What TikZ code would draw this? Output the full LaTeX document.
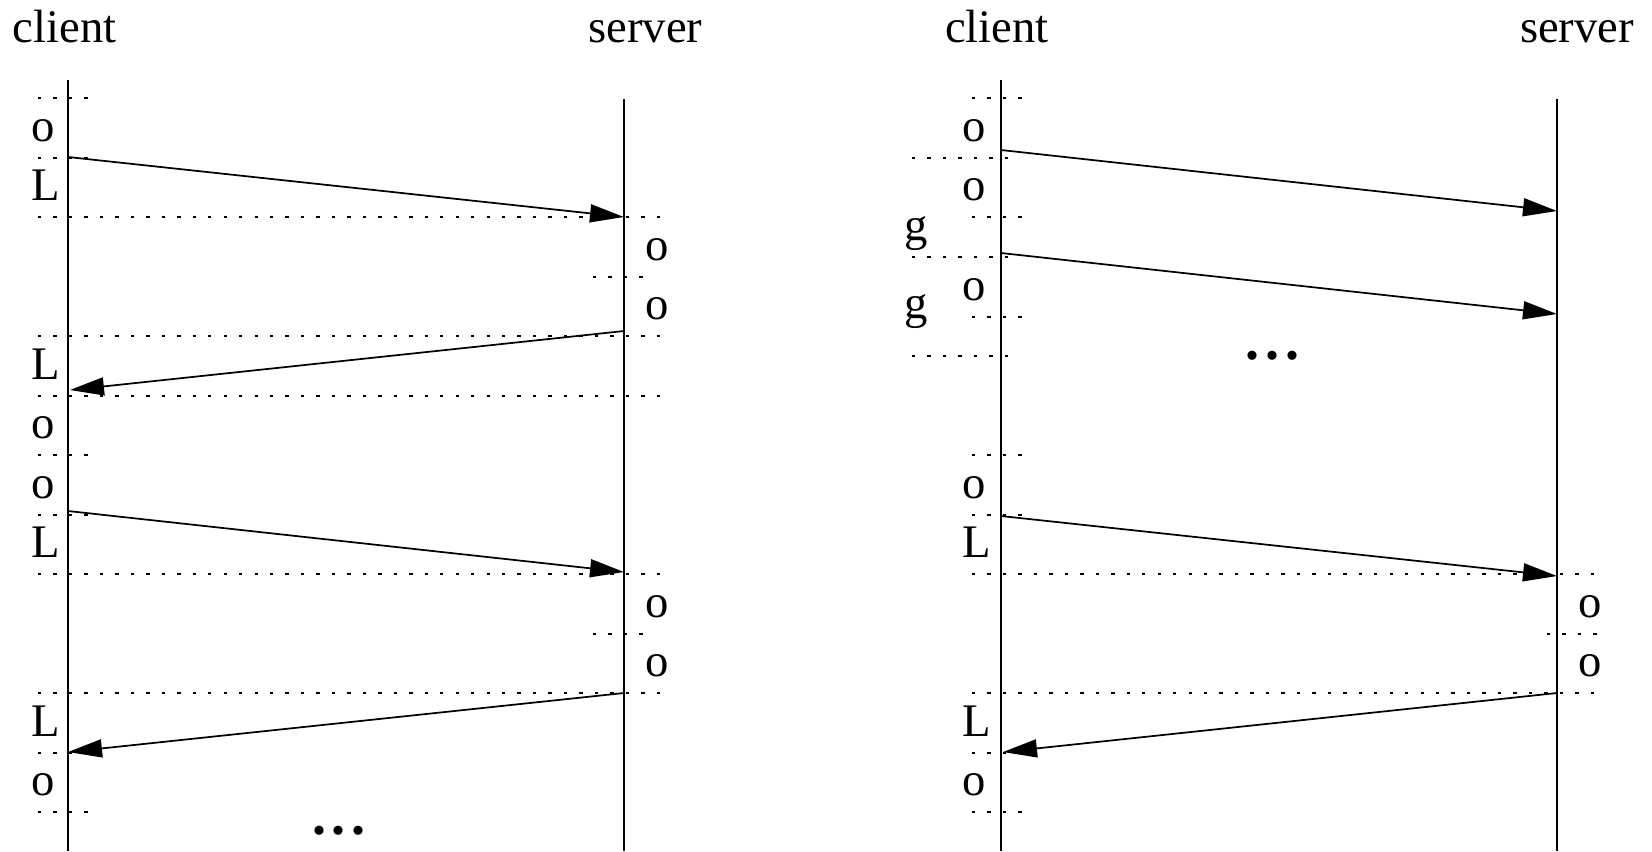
\documentclass[tikz,border=0pt]{standalone}
\usepackage{fontspec}
\setmainfont{Liberation Serif}
\usetikzlibrary{arrows.meta}
\begin{document}
\begin{tikzpicture}[x=0.75pt,y=-0.75pt,
  life/.style={line width=1.5pt},
  msg/.style={line width=1.3pt,-{Triangle[length=25.5pt,width=13.5pt]}},
  guide/.style={line width=1.5pt,dash pattern=on 2.5pt off 9.1pt},
  lbl/.style={inner sep=0pt,anchor=base west,font=\fontsize{35}{40}\selectfont},
  ttl/.style={inner sep=0pt,anchor=base,font=\fontsize{35}{40}\selectfont},
  ell/.style={inner sep=0pt,anchor=base,font=\fontsize{42}{44}\selectfont\bfseries}
]
\useasboundingbox (0,0) rectangle (1652,851);

% ---------------- left panel ----------------
\node[ttl] (tc1) at (64.5,42) {client};
\node[ttl] (ts1) at (645.5,42) {server};
\coordinate (lct) at (68,80);  \coordinate (lcb) at (68,851);
\coordinate (lst) at (624,99); \coordinate (lsb) at (624,851);
\draw[life] (lct) -- (lcb);
\draw[life] (lst) -- (lsb);

% guides
\draw[guide] (38,98) -- (88,98);
\draw[guide] (38,157.5) -- (88,157.5);
\draw[guide] (38,217) -- (662,217);
\draw[guide] (593,276.5) -- (643,276.5);
\draw[guide] (38,336) -- (662,336);
\draw[guide] (38,395.5) -- (662,395.5);
\draw[guide] (38,455) -- (88,455);
\draw[guide] (38,514.5) -- (88,514.5);
\draw[guide] (38,574) -- (662,574);
\draw[guide] (593,633.5) -- (643,633.5);
\draw[guide] (38,693) -- (662,693);
\draw[guide] (38,752.5) -- (88,752.5);
\draw[guide] (38,812) -- (88,812);

% labels
\node[lbl] (l1) at (31,141) {o};
\node[lbl] (l2) at (31,200.5) {L};
\node[lbl] (l3) at (645.5,260) {o};
\node[lbl] (l4) at (645.5,319.5) {o};
\node[lbl] (l5) at (31,379) {L};
\node[lbl] (l6) at (31,438.5) {o};
\node[lbl] (l7) at (31,498) {o};
\node[lbl] (l8) at (31,557.5) {L};
\node[lbl] (l9) at (645.5,617) {o};
\node[lbl] (l10) at (645.5,676.5) {o};
\node[lbl] (l11) at (31,736) {L};
\node[lbl] (l12) at (31,795.5) {o};
\node[ell] (e1) at (339,834) {.\kern4.5pt.\kern4.5pt.};

% messages
\coordinate (a1s) at (68,157);  \coordinate (a1e) at (624,217);
\coordinate (a2s) at (624,331); \coordinate (a2e) at (70,390);
\coordinate (a3s) at (68,511);  \coordinate (a3e) at (624,572);
\coordinate (a4s) at (624,693); \coordinate (a4e) at (68,752);
\draw[msg] (a1s) -- (a1e);
\draw[msg] (a2s) -- (a2e);
\draw[msg] (a3s) -- (a3e);
\draw[msg] (a4s) -- (a4e);

% ---------------- right panel ----------------
\node[ttl] (tc2) at (997,42) {client};
\node[ttl] (ts2) at (1577,42) {server};
\coordinate (rct) at (1001,80);  \coordinate (rcb) at (1001,851);
\coordinate (rst) at (1557,99);  \coordinate (rsb) at (1557,851);
\draw[life] (rct) -- (rcb);
\draw[life] (rst) -- (rsb);

% guides
\draw[guide] (972,98) -- (1022,98);
\draw[guide] (912,157.5) -- (1010,157.5);
\draw[guide] (972,217) -- (1022,217);
\draw[guide] (912,257) -- (1010,257);
\draw[guide] (972,316.5) -- (1022,316.5);
\draw[guide] (912,356) -- (1010,356);
\draw[guide] (972,455) -- (1022,455);
\draw[guide] (972,514.5) -- (1022,514.5);
\draw[guide] (972,574) -- (1597,574);
\draw[guide] (1547,633.5) -- (1597,633.5);
\draw[guide] (972,693) -- (1597,693);
\draw[guide] (972,752.5) -- (1022,752.5);
\draw[guide] (972,812) -- (1022,812);

% labels
\node[lbl] (r1) at (962,141) {o};
\node[lbl] (r2) at (962,200.5) {o};
\node[lbl] (r3) at (904,240) {g};
\node[lbl] (r4) at (962,300) {o};
\node[lbl] (r5) at (904,318.5) {g};
\node[ell] (e2) at (1272,359) {.\kern4.5pt.\kern4.5pt.};
\node[lbl] (r6) at (962,498) {o};
\node[lbl] (r7) at (962,557.5) {L};
\node[lbl] (r8) at (1578.5,617) {o};
\node[lbl] (r9) at (1578.5,676.5) {o};
\node[lbl] (r10) at (962,736) {L};
\node[lbl] (r11) at (962,795.5) {o};

% messages
\coordinate (b1s) at (1001,150);  \coordinate (b1e) at (1557,211);
\coordinate (b2s) at (1001,253);  \coordinate (b2e) at (1557,314);
\coordinate (b3s) at (1001,516);  \coordinate (b3e) at (1557,576);
\coordinate (b4s) at (1557,693);  \coordinate (b4e) at (1003,752);
\draw[msg] (b1s) -- (b1e);
\draw[msg] (b2s) -- (b2e);
\draw[msg] (b3s) -- (b3e);
\draw[msg] (b4s) -- (b4e);
\end{tikzpicture}
\end{document}
